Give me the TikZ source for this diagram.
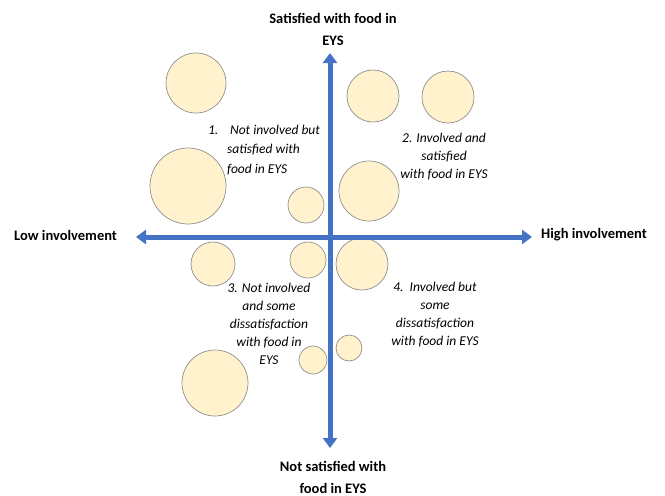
\documentclass[tikz,border=0pt]{standalone}
\usepackage{fontspec}
\setmainfont{Carlito}
\usetikzlibrary{arrows.meta}
\definecolor{axisblue}{HTML}{4472C4}
\definecolor{bubblefill}{HTML}{FFF2CC}
\definecolor{bubbleline}{HTML}{8F8F8F}
\begin{document}
\begin{tikzpicture}[x=1pt,y=1pt,
  bubble/.style={circle,draw=bubbleline,fill=bubblefill,line width=0.7pt,inner sep=0pt},
  axis/.style={draw=axisblue,line width=5pt,-{Triangle[width=14pt,length=10pt]}},
  axlabel/.style={font=\bfseries\fontsize{14.5}{22}\selectfont,align=center,inner sep=0pt},
  quad/.style={font=\itshape\fontsize{13.5}{18}\selectfont,align=center,inner sep=0pt}]
\useasboundingbox (0,0) rectangle (665,-496);
% bubbles
\node[bubble,minimum size=60pt] (b1) at (196,-83) {};
\node[bubble,minimum size=52pt] (b2) at (373,-96) {};
\node[bubble,minimum size=52pt] (b3) at (448,-97) {};
\node[bubble,minimum size=76pt] (b4) at (188,-186) {};
\node[bubble,minimum size=36pt] (b5) at (306,-205) {};
\node[bubble,minimum size=60pt] (b6) at (369,-191) {};
\node[bubble,minimum size=44pt] (b7) at (213,-264) {};
\node[bubble,minimum size=36pt] (b8) at (308,-260) {};
\node[bubble,minimum size=52pt] (b9) at (362,-264) {};
\node[bubble,minimum size=26pt] (b10) at (349,-348) {};
\node[bubble,minimum size=28pt] (b11) at (313,-360) {};
\node[bubble,minimum size=66pt] (b12) at (215,-383) {};
% axes
\coordinate (center) at (330,-237);
\coordinate (top) at (330,-53);
\coordinate (bottom) at (330,-448);
\coordinate (left) at (136,-237);
\coordinate (right) at (532,-237);
\draw[axis] (center) -- (top);
\draw[axis] (center) -- (bottom);
\draw[axis] (center) -- (left);
\draw[axis] (center) -- (right);
% axis labels
\node[axlabel] (tlab) at (333,-29) {Satisfied with food in\\EYS};
\node[axlabel] (blab) at (333,-477) {Not satisfied with\\food in EYS};
\node[axlabel,anchor=west] (llab) at (14,-235) {Low involvement};
\node[axlabel,anchor=west] (rlab) at (541,-235) {High involvement};
% quadrant texts
\node[quad,align=left,font=\itshape\fontsize{13.5}{19.5}\selectfont] (q1) at (264,-150) {\makebox[22pt][l]{1.}Not involved but\\\hspace*{19pt}satisfied with\\\hspace*{19pt}food in EYS};
\node[quad] (q2) at (444,-157) {2. Involved and\\satisfied\\with food in EYS};
\node[quad] (q3) at (269,-324) {3. Not involved\\and some\\dissatisfaction\\with food in\\EYS};
\node[quad] (q4) at (435,-315) {4.\ \ Involved but\\some\\dissatisfaction\\with food in EYS};
\end{tikzpicture}
\end{document}
